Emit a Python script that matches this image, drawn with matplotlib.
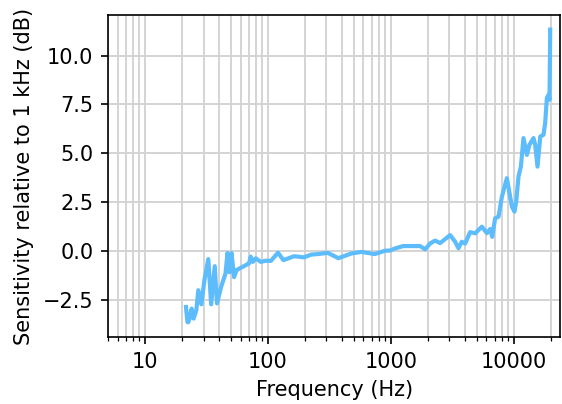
import matplotlib
matplotlib.use('Agg')
import matplotlib.pyplot as plt
import numpy as np

# frequency response (Hz, dB re 1 kHz)
freq = [21.6, 22.2, 22.5, 23.1, 24.0, 24.9, 26.2, 27.2, 28.8, 30.5,
        32.8, 34.6, 37.0, 38.6, 41.7, 45.3, 47.0, 48.8, 50.7, 53.1,
        55.7, 62.1, 70.3, 72.6, 75.4, 79.8, 87.7, 96.3, 106, 121,
        134, 164, 197, 225, 255, 308, 375, 479, 578, 743,
        898, 989, 1086, 1268, 1735, 1905, 2093, 2300, 2525, 3045,
        3345, 3560, 3790, 4035, 4430, 4870, 5520, 6060, 6450, 6700,
        7080, 7540, 8030, 8820, 9690, 10170, 10500, 10960, 11460, 12040,
        12830, 13460, 14520, 14990, 15660, 16480, 17510, 18070, 18660, 19240,
        19600, 19860]
sens = [-2.86, -3.63, -3.64, -3.45, -2.94, -3.45, -3.03, -2.00, -2.72, -1.49,
        -0.41, -2.72, -0.77, -2.67, -1.83, -1.14, -0.10, -1.08, -0.10, -1.33,
        -0.97, -0.81, -0.63, -0.28, -0.55, -0.37, -0.55, -0.49, -0.50, -0.08,
        -0.46, -0.26, -0.32, -0.18, -0.15, -0.09, -0.36, -0.12, -0.04, -0.15,
        0.02, 0.03, 0.14, 0.26, 0.26, 0.09, 0.39, 0.54, 0.41, 0.82,
        0.48, 0.15, 0.48, 0.39, 0.97, 0.91, 1.25, 0.92, 1.13, 0.73,
        1.68, 1.76, 2.78, 3.73, 2.27, 2.02, 2.53, 3.81, 4.32, 5.78,
        4.92, 5.44, 5.78, 5.44, 4.32, 5.86, 5.95, 6.55, 7.83, 8.00,
        7.74, 11.33]

fig = plt.figure(figsize=(562/150, 404/150), dpi=150)
ax = fig.add_axes([0.192, 0.166, 0.805, 0.797])

ax.semilogx(freq, sens, color='#5cbcfc', lw=2.0)
ax.set_xlim(5, 24000)

ax.grid(True, which='both', axis='x', color='#d3d3d3', lw=0.9)
ax.grid(True, which='major', axis='y', color='#d3d3d3', lw=0.9)
ax.set_axisbelow(True)

ax.xaxis.set_major_formatter(matplotlib.ticker.FuncFormatter(lambda v, p: '%g' % v))
ax.set_xlabel("Frequency (Hz)")
ax.set_ylabel("Sensitivity relative to 1 kHz (dB)")

fig.savefig('out.png', dpi=150)
